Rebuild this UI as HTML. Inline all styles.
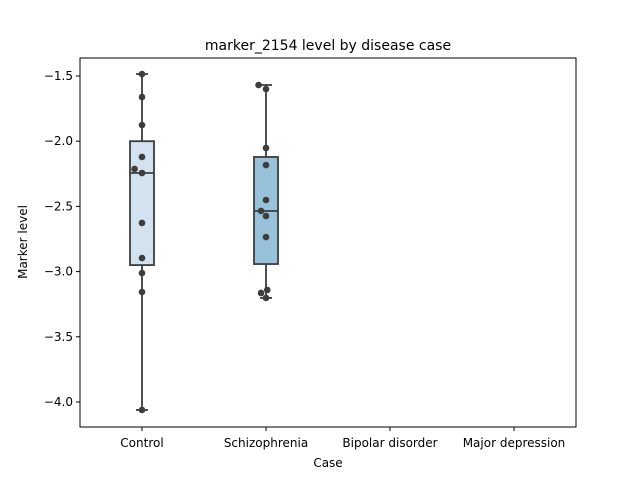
<!DOCTYPE html>
<html><head><meta charset="utf-8"><style>
body{margin:0;background:#fff}
svg text{font-family:"DejaVu Sans","Liberation Sans",sans-serif;fill:#000}
</style></head><body>
<svg id="chart" width="640" height="480" xmlns="http://www.w3.org/2000/svg">
<rect x="0" y="0" width="640" height="480" fill="#fff"/>
<g id="plot"></g>
<rect x="80" y="58" width="496" height="369" fill="none" stroke="#000" stroke-width="1"/>
<text x="328" y="50" font-size="14" text-anchor="middle">marker_2154 level by disease case</text>
<text x="328" y="467" font-size="12" text-anchor="middle">Case</text>
<text x="27" y="242" font-size="12" text-anchor="middle" transform="rotate(-90 27 242)">Marker level</text>
<g id="axes"></g>
</svg>
<script>
const categories = ["Control","Schizophrenia","Bipolar disorder","Major depression"];
const yTicks = [-1.5,-2.0,-2.5,-3.0,-3.5,-4.0];
const yTickLabels = ["\u22121.5","\u22122.0","\u22122.5","\u22123.0","\u22123.5","\u22124.0"];
const boxColors = ["#d3e2ef","#98c2da"];
const whiskerLow = [-4.061,-3.202];
const q1 = [-2.95,-2.942];
const median = [-2.244,-2.535];
const q3 = [-2.0,-2.121];
const whiskerHigh = [-1.485,-1.569];
const controlPoints = [-1.485,-1.661,-1.876,-2.121,-2.213,-2.244,-2.627,-2.896,-3.011,-3.157,-4.061];
const controlJitter = [0,0,0,0,-0.06,0,0,0,0,0,0];
const schizoPoints = [-1.569,-1.600,-2.052,-2.183,-2.451,-2.535,-2.574,-2.735,-3.164,-3.141,-3.202];
const schizoJitter = [-0.06,0,0,0,0,-0.04,0,0,-0.04,0.01,0];

const NS="http://www.w3.org/2000/svg";
const xL=80,xR=576,yT=58,yB=427;
const band=(xR-xL)/categories.length;
function xScale(i){return xL+band*(i+0.5);}
function yScale(v){return 76+(-1.5-v)*130.4;}
function mk(tag,attrs,parent){const e=document.createElementNS(NS,tag);for(const k in attrs)e.setAttribute(k,attrs[k]);parent.appendChild(e);return e;}
const plot=document.getElementById('plot'),axes=document.getElementById('axes');
const col="#3d3d3d",bw=24;
for(let i=0;i<boxColors.length;i++){
  const cx=xScale(i);
  const w1=mk('line',{x1:cx,x2:cx,y1:yScale(whiskerHigh[i]),y2:yScale(q3[i]),stroke:col,'stroke-width':1.8},plot);
  
  
  const w2=mk('line',{x1:cx,x2:cx,y1:yScale(q1[i]),y2:yScale(whiskerLow[i]),stroke:col,'stroke-width':1.8},plot);
  
  
  const c1=mk('line',{x1:cx-6,x2:cx+6,y1:yScale(whiskerHigh[i]),y2:yScale(whiskerHigh[i]),stroke:col,'stroke-width':1.8},plot);
  
  
  const c2=mk('line',{x1:cx-6,x2:cx+6,y1:yScale(whiskerLow[i]),y2:yScale(whiskerLow[i]),stroke:col,'stroke-width':1.8},plot);
  
  
  const b=mk('rect',{x:cx-bw/2,y:yScale(q3[i]),width:bw,height:yScale(q1[i])-yScale(q3[i]),fill:boxColors[i],stroke:col,'stroke-width':1.8},plot);
  
  
  const m=mk('line',{x1:cx-bw/2,x2:cx+bw/2,y1:yScale(median[i]),y2:yScale(median[i]),stroke:col,'stroke-width':1.8},plot);
  
  
}
function drawPts(pts,jit,i){
  pts.forEach((v,k)=>{
    const p=mk('circle',{cx:xScale(i)+jit[k]*band,cy:yScale(v),r:3.3,fill:col},plot);
    
    
  });
}
drawPts(controlPoints,controlJitter,0);
drawPts(schizoPoints,schizoJitter,1);
yTicks.forEach((t,k)=>{
  const y=yScale(t);
  const l=mk('line',{x1:xL-4,x2:xL,y1:y,y2:y,stroke:'#000','stroke-width':1},axes);
  
  
  const tx=mk('text',{x:xL-7,y:y+4,'font-size':12,'text-anchor':'end'},axes);
  tx.textContent=yTickLabels[k];
  
  
});
categories.forEach((c,i)=>{
  const x=xScale(i);
  const l=mk('line',{x1:x,x2:x,y1:yB,y2:yB+4,stroke:'#000','stroke-width':1},axes);
  
  
  const tx=mk('text',{x:x,y:yB+20,'font-size':12,'text-anchor':'middle'},axes);
  tx.textContent=c;
  
  
});
</script>
</body></html>
